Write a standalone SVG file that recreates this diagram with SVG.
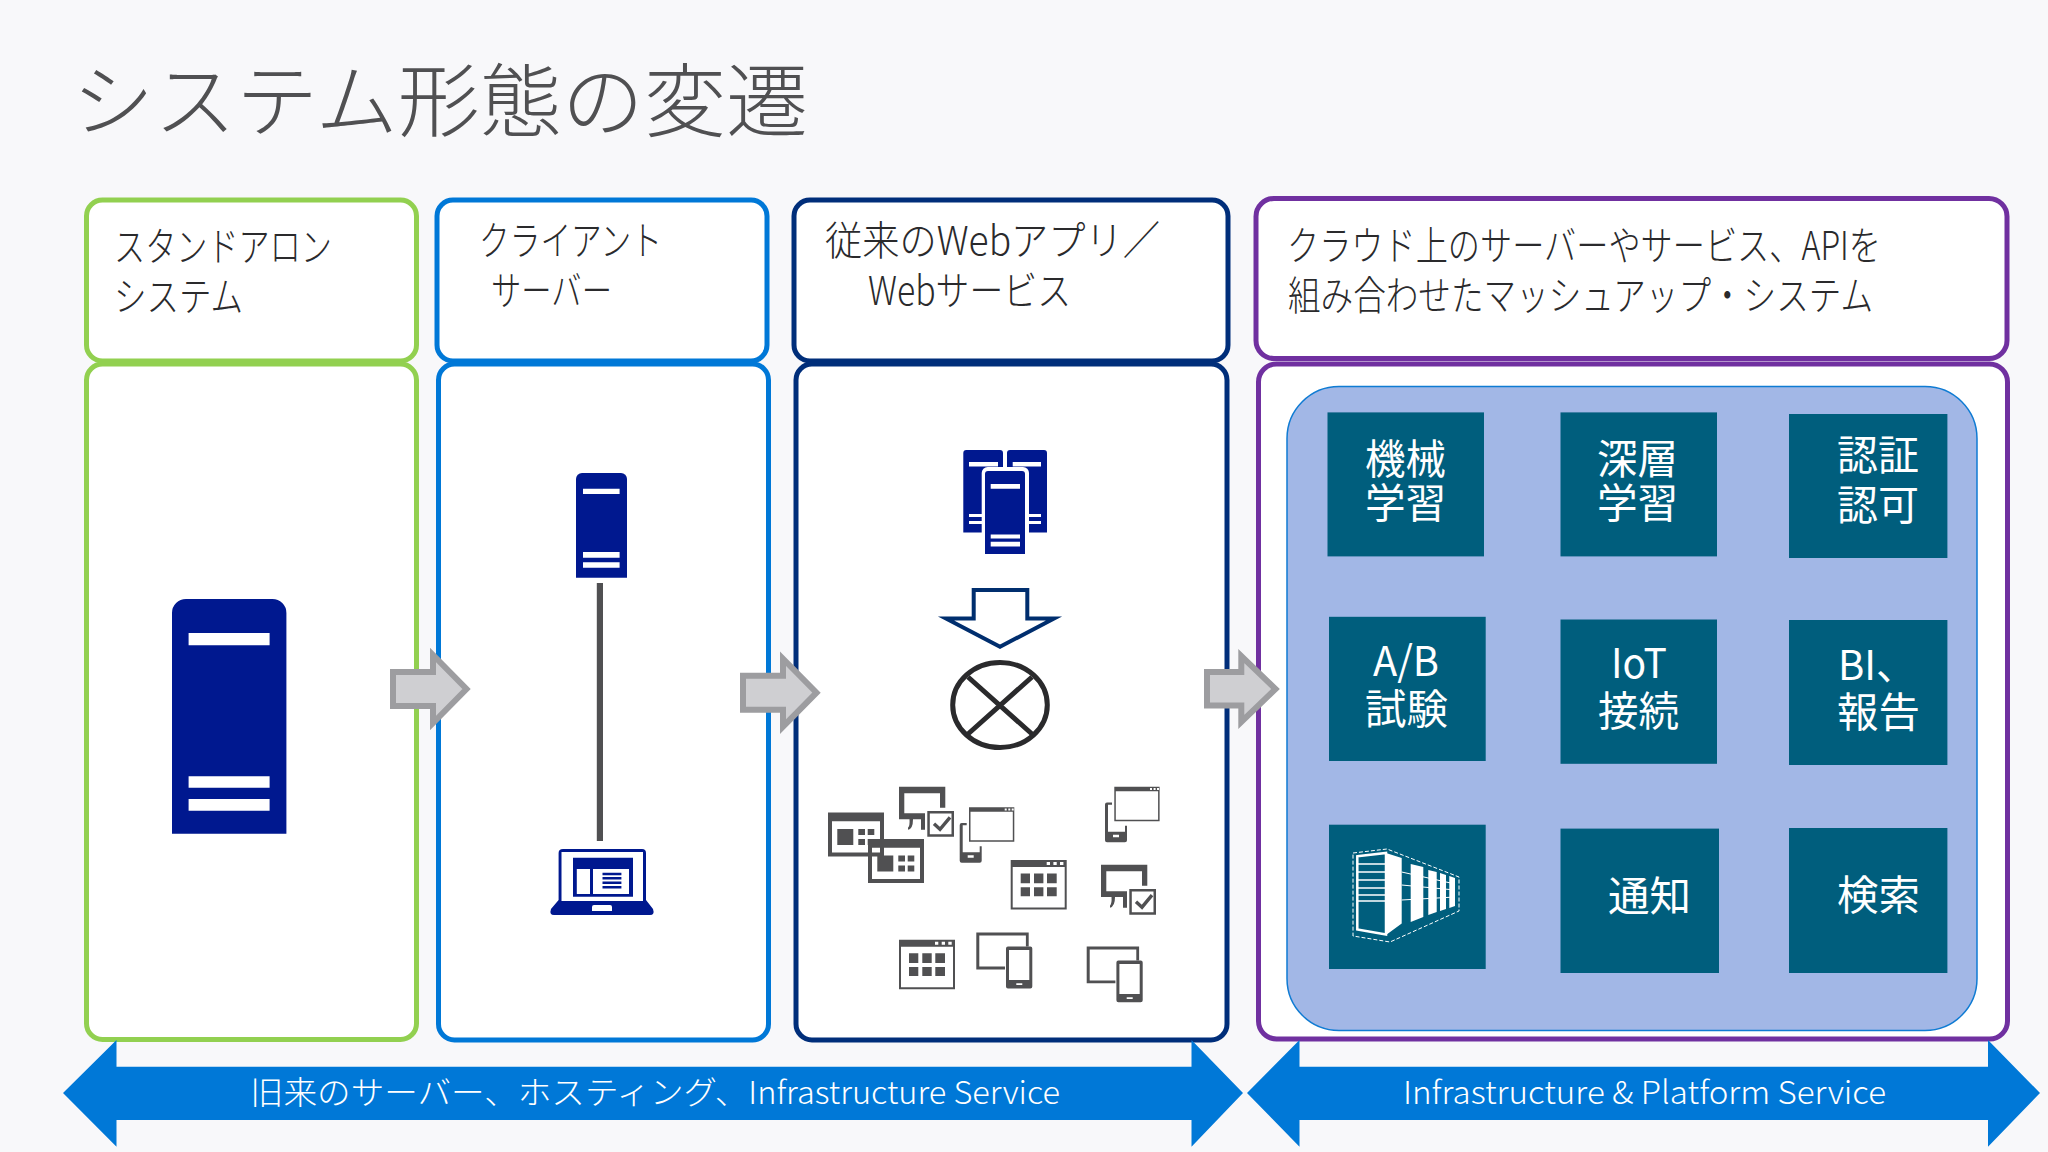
<svg xmlns="http://www.w3.org/2000/svg" width="2048" height="1152" viewBox="0 0 2048 1152">
<style>
text{font-family:"Noto Sans CJK JP","Noto Sans",sans-serif}
.title{font-size:80px;font-weight:300;fill:#505052}
.hd{font-size:40px;font-weight:300;fill:#2a2a2c}
.tl{font-size:41px;font-weight:400;fill:#fff}
.ban{font-size:32px;font-weight:300;fill:#fff}
.pn{fill:#fff;stroke-width:5}
.tile{fill:#005e7d}
.w{fill:#fff}
.sv{fill:#00188f}
.ic{fill:#505052}
.gar{fill:#cfcfd2;stroke:#9d9da0;stroke-width:6;stroke-miterlimit:10}
</style>
<defs>
<symbol id="tilewin" overflow="visible"><path class="ic" d="M0,0H56V44H0ZM4,8.7V40H52V8.7Z" fill-rule="evenodd"/><path class="ic" d="M9.3,16.6h16v15.8h-16zM30.3,16.6h6.7v5.9h-6.7zM39.7,16.6h6.6v5.9h-6.6zM30.3,26.5h6.7v5.9h-6.7zM39.7,26.5h6.6v5.9h-6.6z"/></symbol>
<symbol id="cal" overflow="visible"><path class="ic" fill-rule="evenodd" d="M0,0H56V49.4H0ZM2,7V47.4H54V7Z"/><path class="ic" d="M10,13.4h9.3v9.9h-9.3zM23.3,13.4h9.4v9.9h-9.4zM36.3,13.4h9.7v9.9h-9.7zM10,27.2h9.3v9.1h-9.3zM23.3,27.2h9.4v9.1h-9.4zM36.3,27.2h9.7v9.1h-9.7z"/><path class="w" d="M36,2h3.3v3h-3.3zM42.7,2h3.3v3h-3.3zM49.3,2h3.4v3h-3.4z"/></symbol>
<symbol id="moncheck" overflow="visible"><path class="ic" d="M0,0H46.3V21H41V6.5H5.3V26.5H26V43H22V32.4H14Q14,42 9,43L9,41Q11,39 10.5,32.4H0Z"/><path class="ic" fill-rule="evenodd" d="M28.3,24.2H55V50H28.3ZM30.8,26.7V47.5H52.5V26.7Z"/><path d="M35,37l6,5.5 10,-12" fill="none" stroke="#505052" stroke-width="3.4"/></symbol>
<symbol id="phonewin" overflow="visible"><path class="ic" fill-rule="evenodd" d="M9.3,0H54.6V34.4H9.3ZM10.800,4.5V32.900H53.100V4.5Z"/><path class="w" d="M45,1.3h2v1.8h-2zM48.6,1.3h2v1.8h-2zM52,1.3h2v1.8h-2z"/><path class="ic" fill-rule="evenodd" d="M2,15.8H7V18H3V45H20V39H22V53.4Q22,55.4 20,55.4H2Q0,55.4 0,53.4V17.8Q0,15.8 2,15.8ZM8,48V50.5H14V48Z"/></symbol>
<symbol id="montab" overflow="visible"><path class="ic" d="M0,0H52.4V13.9H49.6V3H3V34H28.7V36.8H0Z"/><path class="ic" fill-rule="evenodd" d="M31.7,13.9H54Q56,13.9 56,16V53.8Q56,55.8 54,55.8H31.7Q29.7,55.8 29.7,53.8V16Q29.7,13.9 31.7,13.9ZM32.7,17.5V47.5H53V17.5ZM40,50.7V52.5H46V50.7Z"/></symbol>
<polygon id="gray" class="gar" points="393,672 433,672 433,655 466.5,689 433,723 433,706 393,706"/>
</defs>
<rect width="2048" height="1152" fill="#f8f8fa"/>
<text class="title" x="72" y="130" textLength="736" lengthAdjust="spacingAndGlyphs">システム形態の変遷</text>

<g id="panel-standalone">
<rect class="pn" x="86.500" y="200" width="330" height="161" rx="16" stroke="#92d050"/>
<rect class="pn" x="86.500" y="364" width="330" height="675.500" rx="16" stroke="#92d050"/>
<text class="hd"><tspan x="114" y="261" textLength="218" lengthAdjust="spacingAndGlyphs">スタンドアロン</tspan><tspan x="114" y="311" textLength="129" lengthAdjust="spacingAndGlyphs">システム</tspan></text>
</g>
<g id="panel-client-server">
<rect class="pn" x="437" y="200" width="330" height="161" rx="16" stroke="#0078d7"/>
<rect class="pn" x="438.500" y="364" width="330" height="676" rx="16" stroke="#0078d7"/>
<text class="hd"><tspan x="479" y="255" textLength="183" lengthAdjust="spacingAndGlyphs">クライアント</tspan><tspan x="491" y="305" textLength="121" lengthAdjust="spacingAndGlyphs">サーバー</tspan></text>
</g>
<g id="panel-web">
<rect class="pn" x="794" y="200" width="434" height="161" rx="16" stroke="#002e7a"/>
<rect class="pn" x="796" y="364" width="431" height="676" rx="16" stroke="#002e7a"/>
<text class="hd"><tspan x="825" y="255" textLength="335" lengthAdjust="spacingAndGlyphs">従来のWebアプリ／</tspan><tspan x="868" y="305" textLength="203" lengthAdjust="spacingAndGlyphs">Webサービス</tspan></text>
</g>
<g id="panel-cloud">
<rect class="pn" x="1256" y="198.500" width="751" height="160" rx="18" stroke="#7030a0"/>
<rect class="pn" x="1258.500" y="364" width="749" height="675" rx="18" stroke="#7030a0"/>
<text class="hd"><tspan x="1287" y="260" textLength="594" lengthAdjust="spacingAndGlyphs">クラウド上のサーバーやサービス、APIを</tspan><tspan x="1288" y="310" textLength="585" lengthAdjust="spacingAndGlyphs">組み合わせたマッシュアップ・システム</tspan></text>
</g>

<g id="server-large">
<path class="sv" d="M172,613a14,14 0 0 1 14,-14H272.400a14,14 0 0 1 14,14V833.700H172Z"/>
<path class="w" d="M188.600,633H269.600V645.300H188.600ZM188.600,776.300H269.600V787.700H188.600ZM188.600,799H269.600V810.700H188.600Z"/>
</g>
<g id="server-small">
<path class="sv" d="M576,479a6,6 0 0 1 6,-6H621a6,6 0 0 1 6,6V577.700H576Z"/>
<path class="w" d="M583,488.700H619.600V494H583ZM583,552H619.600V557.700H583ZM583,562.300H619.600V567.700H583Z"/>
</g>
<g id="laptop">
<path class="sv" fill-rule="evenodd" d="M563,849H642Q646,849 646,853V900L653,909Q655,915 650,915H554Q549,915 551,909L558.600,900V853Q558.600,849 563,849ZM561.500,852V901H643V852Z"/>
<path class="sv" d="M573,857.700H633V896.700H573Z"/>
<path class="w" d="M576.800,869H590V894H576.800ZM593,869H629V894H593ZM592,911V907Q592,905 594,905H610Q612,905 612,907V911Z"/>
<path class="sv" d="M602.500,872.700H621.400V875.200H602.500ZM602.500,877H621.400V879.500H602.500ZM602.500,881.500H621.400V884H602.500ZM602.500,886H621.400V888.500H602.500Z"/>
</g>
<g id="server-cluster">
<path class="sv" d="M963.300,453a3,3 0 0 1 3,-3H1000a3,3 0 0 1 3,3V532.600H963.300ZM1007,453a3,3 0 0 1 3,-3H1044a3,3 0 0 1 3,3V532.600H1007Z"/>
<path class="w" d="M969,462H998V466.600H969ZM1012.700,462H1041V466.600H1012.700ZM969,514H982V517H969ZM969,521H982V524H969ZM1029,514H1041V517H1029ZM1029,521H1041V524H1029Z"/>
<path class="w" d="M981.700,556V473a6,6 0 0 1 6,-6H1023a6,6 0 0 1 6,6V556Z"/>
<path class="sv" d="M985,474a3,3 0 0 1 3,-3H1022a3,3 0 0 1 3,3V554H985Z"/>
<path class="w" d="M990.700,484H1020V488.800H990.700ZM990.700,534.600H1020V538.600H990.700ZM990.700,541.700H1020V546.500H990.700Z"/>
</g>
<g id="down-arrow">
<path d="M973.700,590H1027.300V618.400H1054L1000,646.800L946,618.400H973.700Z" fill="#fff" stroke="#002e6e" stroke-width="4" stroke-miterlimit="12"/>
</g>
<g id="internet-symbol" fill="none" stroke="#2a2a2c" stroke-width="5">
<ellipse cx="1000" cy="705" rx="47.300" ry="42.500"/>
<path d="M968,677L1032,734M1032,677L968,734"/>
</g>
<g id="device-icons">
<use href="#tilewin" x="828" y="812.500"/>
<use href="#tilewin" x="868" y="839"/>
<use href="#moncheck" x="899" y="786.800"/>
<use href="#phonewin" x="959.700" y="807.300"/>
<use href="#cal" x="1010.700" y="860"/>
<use href="#phonewin" x="1105" y="786.800"/>
<use href="#moncheck" x="1101" y="864.700"/>
<use href="#cal" x="899" y="939.800"/>
<use href="#montab" x="976.300" y="932.600"/>
<use href="#montab" x="1086.700" y="946.500"/>
</g>

<g id="services">
<rect x="1287" y="386.500" width="690" height="644" rx="52" fill="#a2b7e6" stroke="#0f7bd3" stroke-width="1.500"/>
<g id="tile-ml"><rect class="tile" x="1327.500" y="412.400" width="156.500" height="144"/>
<text class="tl"><tspan x="1365" y="474" textLength="81" lengthAdjust="spacingAndGlyphs">機械</tspan><tspan x="1365" y="518" textLength="81" lengthAdjust="spacingAndGlyphs">学習</tspan></text></g>
<g id="tile-dl"><rect class="tile" x="1560.500" y="412.400" width="156.500" height="144"/>
<text class="tl"><tspan x="1597" y="474" textLength="81" lengthAdjust="spacingAndGlyphs">深層</tspan><tspan x="1597" y="518" textLength="81" lengthAdjust="spacingAndGlyphs">学習</tspan></text></g>
<g id="tile-auth"><rect class="tile" x="1789" y="414" width="158.400" height="144"/>
<text class="tl"><tspan x="1837" y="470" textLength="82" lengthAdjust="spacingAndGlyphs">認証</tspan><tspan x="1837" y="520" textLength="82" lengthAdjust="spacingAndGlyphs">認可</tspan></text></g>
<g id="tile-ab"><rect class="tile" x="1329" y="616.800" width="156.700" height="144.200"/>
<text class="tl"><tspan x="1373" y="676" textLength="66" lengthAdjust="spacingAndGlyphs">A/B</tspan><tspan x="1365" y="724" textLength="83" lengthAdjust="spacingAndGlyphs">試験</tspan></text></g>
<g id="tile-iot"><rect class="tile" x="1560.500" y="619.500" width="156.500" height="144.300"/>
<text class="tl"><tspan x="1611" y="678" textLength="56" lengthAdjust="spacingAndGlyphs">IoT</tspan><tspan x="1598" y="726" textLength="81" lengthAdjust="spacingAndGlyphs">接続</tspan></text></g>
<g id="tile-bi"><rect class="tile" x="1789" y="620" width="158.400" height="145"/>
<text class="tl"><tspan x="1838" y="680" textLength="78" lengthAdjust="spacingAndGlyphs">BI、</tspan><tspan x="1837" y="727" textLength="83" lengthAdjust="spacingAndGlyphs">報告</tspan></text></g>
<g id="tile-dc"><rect class="tile" x="1329" y="824.700" width="156.700" height="144.300"/>
<path d="M1353,853L1387,849L1459,877V911L1390,942L1353,936Z" fill="none" stroke="#fff" stroke-width="1" stroke-dasharray="4 2"/>
<path d="M1357.300,856.300L1386,853V934.500L1357.300,929.400Z" fill="none" stroke="#fff" stroke-width="2.500"/>
<path d="M1357.300,864H1386M1357.300,872H1386M1357.300,880H1386M1357.300,888H1386M1357.300,895H1386M1357.300,901H1386" stroke="#fff" stroke-width="1.500"/>
<path class="w" d="M1386,853L1401.700,858V923.500L1386.700,934.500ZM1410.700,864L1423.300,867V917L1410.700,922ZM1428.300,870L1436.700,872V912L1428.300,915ZM1440,873L1446,875V909L1440,911ZM1449.300,876L1455,878V906L1449.300,908Z"/>
<path d="M1401.700,872L1455,884M1401.700,885L1455,890M1401.700,900L1455,897" stroke="#fff" stroke-width="1" fill="none"/></g>
<g id="tile-notify"><rect class="tile" x="1560.500" y="828.600" width="158.500" height="144.400"/>
<text class="tl" x="1608" y="911" textLength="83" lengthAdjust="spacingAndGlyphs">通知</text></g>
<g id="tile-search"><rect class="tile" x="1789" y="828" width="158.400" height="145"/>
<text class="tl" x="1837" y="910" textLength="83" lengthAdjust="spacingAndGlyphs">検索</text></g>
</g>

<g id="banners">
<g id="banner-left"><polygon points="63,1093 116.500,1040 116.500,1066.700 1191.500,1066.700 1191.500,1040 1243,1093 1191.500,1146.700 1191.500,1120 116.500,1120 116.500,1146.700" fill="#0078d7"/>
<text class="ban" x="250" y="1104" textLength="810" lengthAdjust="spacingAndGlyphs">旧来のサーバー、ホスティング、<tspan font-size="31">Infrastructure Service</tspan></text></g>
<g id="banner-right"><polygon points="1247,1093 1299.500,1040 1299.500,1066.700 1988,1066.700 1988,1040 2040,1093 1988,1146.700 1988,1120 1299.500,1120 1299.500,1146.700" fill="#0078d7"/>
<text class="ban" x="1403" y="1104" textLength="483" lengthAdjust="spacingAndGlyphs">Infrastructure &amp; Platform Service</text></g>
</g>

<g id="connectors">
<rect x="596.800" y="583" width="6.200" height="258" fill="#505052"/>
<use href="#gray"/>
<use href="#gray" x="350" y="3.700"/>
<polygon class="gar" points="1207,672 1241.300,672 1241.300,656 1275.500,689 1241.300,722 1241.300,705.500 1207,705.500"/>
</g>
</svg>
